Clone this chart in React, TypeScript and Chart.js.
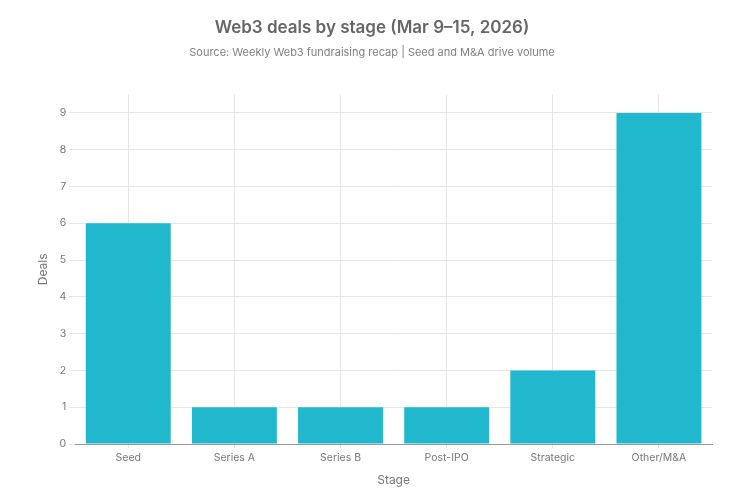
import React, { useEffect, useRef } from 'react';
import { Chart, registerables } from 'chart.js';

Chart.register(...registerables);

const stages = ['Seed', 'Series A', 'Series B', 'Post-IPO', 'Strategic', 'Other/M&A'];
const deals = [6, 1, 1, 1, 2, 9];

const textGrey = '#777777';

const App: React.FC = () => {
  const chartRef = useRef<HTMLCanvasElement>(null);

  useEffect(() => {
    document.body.style.margin = '0';
    if (!chartRef.current) return;

    const chart = new Chart(chartRef.current, {
      type: 'bar',
      data: {
        labels: stages,
        datasets: [
          {
            label: 'Deals',
            data: deals,
            backgroundColor: '#21B8CD',
            borderWidth: 0,
            categoryPercentage: 1,
            barPercentage: 0.8,
          },
        ],
      },
      options: {
        animation: false,
        responsive: true,
        maintainAspectRatio: false,
        layout: { padding: { left: 32, right: 38, top: 0, bottom: 8 } },
        plugins: {
          legend: { display: false },
          title: {
            display: true,
            text: 'Web3 deals by stage (Mar 9–15, 2026)',
            color: '#666666',
            font: { family: 'Inter', size: 17, weight: 600 },
            padding: { top: 18, bottom: 8 },
          },
          subtitle: {
            display: true,
            text: 'Source: Weekly Web3 fundraising recap | Seed and M&A drive volume',
            color: '#808080',
            font: { family: 'Inter', size: 11 },
            padding: { bottom: 35 },
          },
          tooltip: { enabled: false },
        },
        scales: {
          x: {
            grid: { offset: false, color: '#e6e6e6', tickLength: 4 },
            border: { color: '#999999' },
            ticks: { color: textGrey, font: { family: 'Inter', size: 10.5 }, padding: 4 },
            title: {
              display: true,
              text: 'Stage',
              color: textGrey,
              font: { family: 'Inter', size: 12 },
              padding: { top: 5 },
            },
          },
          y: {
            min: 0,
            max: 9.5,
            grid: { color: '#e6e6e6', tickLength: 6 },
            border: { display: false },
            ticks: { stepSize: 1, color: textGrey, font: { family: 'Inter', size: 10.5 }, padding: 3 },
            afterBuildTicks: (axis) => {
              axis.ticks = axis.ticks.filter((t) => Number.isInteger(t.value));
            },
            title: {
              display: true,
              text: 'Deals',
              color: textGrey,
              font: { family: 'Inter', size: 12 },
              padding: { bottom: 6 },
            },
          },
        },
      },
    });

    return () => chart.destroy();
  }, []);

  return (
    <div style={{ width: 750, height: 500, position: 'relative', background: '#fff' }}>
      <canvas ref={chartRef}></canvas>
    </div>
  );
};

export default App;
